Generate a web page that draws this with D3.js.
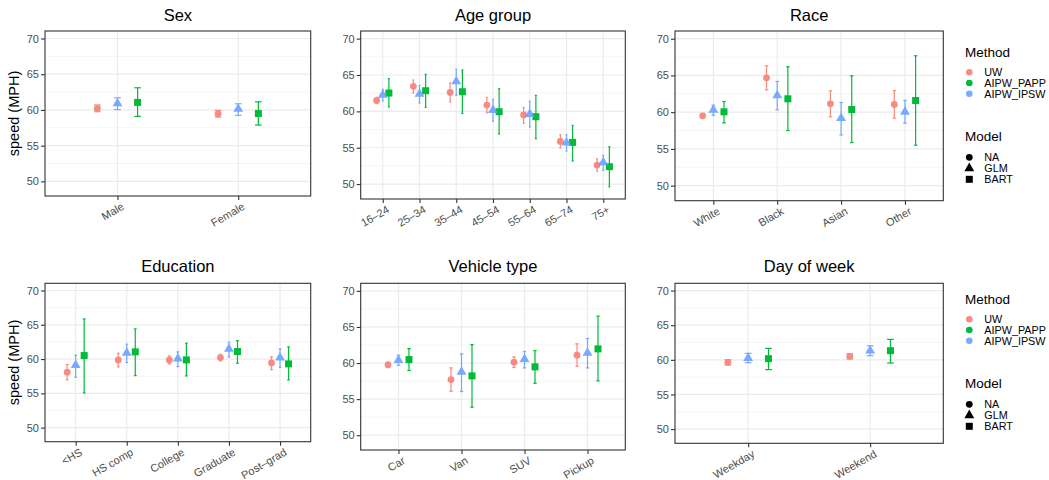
<!DOCTYPE html>
<html>
<head>
<meta charset="utf-8">
<script src="https://cdn.jsdelivr.net/npm/d3@7"></script>
<style>
  html, body { margin: 0; padding: 0; background: #fff; }
  svg { display: block; font-family: "Liberation Sans", Arial, Helvetica, sans-serif; }
</style>
</head>
<body>
<svg id="chart" width="1049" height="480"></svg>
<script>
// Methods, model shapes and colours
const methods = ["UW", "AIPW_PAPP", "AIPW_IPSW"];
const models = ["NA", "GLM", "BART"];
const methodModel = { UW: "NA", AIPW_IPSW: "GLM", AIPW_PAPP: "BART" };
const methodColor = { UW: "#F8766D", AIPW_PAPP: "#00BA38", AIPW_IPSW: "#619CFF" };
const methodAlpha = { UW: 0.85, AIPW_PAPP: 1, AIPW_IPSW: 0.85 };
const yTicks = [50, 55, 60, 65, 70];
const yMinor = [52.5, 57.5, 62.5, 67.5];

// Estimates as [estimate, lower, upper] per category
const sexCats = ["Male", "Female"];
const sexUW   = [[60.2, 59.75, 60.7], [59.45, 59.0, 59.93]];
const sexIPSW = [[60.9, 60.05, 61.7], [60.15, 59.23, 60.86]];
const sexPAPP = [[61.05, 59.1, 63.1], [59.5, 57.88, 61.14]];

const ageCats = ["16\u201324", "25\u201334", "35\u201344", "45\u201354", "55\u201364", "65\u201374", "75+"];
const ageUW   = [[61.5, 61.06, 61.93], [63.44, 62.52, 64.31], [62.61, 61.28, 63.94], [60.87, 59.82, 61.93], [59.5, 58.35, 60.55], [55.87, 55.0, 56.79], [52.61, 51.74, 53.49]];
const ageIPSW = [[62.25, 61.42, 63.03], [62.39, 61.15, 63.58], [64.13, 62.2, 65.78], [60.18, 58.62, 61.65], [59.63, 57.84, 61.38], [55.69, 54.54, 56.79], [52.98, 51.88, 53.94]];
const agePAPP = [[62.52, 60.6, 64.5], [62.84, 60.55, 65.09], [62.7, 59.72, 65.7], [59.95, 56.88, 63.12], [59.27, 56.24, 62.2], [55.73, 53.17, 58.07], [52.39, 49.63, 55.14]];

const raceCats = ["White", "Black", "Asian", "Other"];
const raceUW   = [[59.5, 59.27, 59.73], [64.68, 63.05, 66.32], [61.14, 59.36, 62.9], [61.05, 59.18, 62.95]];
const raceIPSW = [[60.32, 59.59, 60.95], [62.27, 60.32, 64.18], [59.18, 56.9, 61.32], [60.05, 58.5, 61.6]];
const racePAPP = [[60.05, 58.55, 61.45], [61.82, 57.5, 66.18], [60.36, 55.86, 64.95], [61.59, 55.5, 67.68]];

const eduCats = ["<HS", "HS comp", "College", "Graduate", "Post\u2013grad"];
const eduUW   = [[58.08, 56.96, 59.2], [59.88, 58.86, 60.85], [59.88, 59.29, 60.46], [60.22, 59.73, 60.7], [59.44, 58.47, 60.32]];
const eduIPSW = [[59.1, 57.35, 60.56], [60.9, 59.49, 62.17], [60.07, 58.9, 61.05], [61.48, 60.32, 62.46], [60.22, 58.8, 61.48]];
const eduPAPP = [[60.51, 55.06, 65.86], [61.05, 57.59, 64.4], [59.88, 57.54, 62.31], [61.1, 59.39, 62.7], [59.3, 56.96, 61.78]];

const vehCats = ["Car", "Van", "SUV", "Pickup"];
const vehUW   = [[59.75, 59.38, 60.12], [57.71, 56.1, 59.33], [60.12, 59.38, 60.85], [61.09, 59.56, 62.66]];
const vehIPSW = [[60.39, 59.7, 61.09], [58.78, 56.05, 61.27], [60.53, 59.33, 61.6], [61.41, 59.33, 63.4]];
const vehPAPP = [[60.48, 58.96, 62.0], [58.22, 53.88, 62.56], [59.47, 57.2, 61.73], [61.96, 57.53, 66.49]];

const dayCats = ["Weekday", "Weekend"];
const dayUW   = [[59.64, 59.26, 60.02], [60.5, 60.12, 60.89]];
const dayIPSW = [[60.26, 59.59, 60.94], [61.32, 60.6, 62.04]];
const dayPAPP = [[60.17, 58.59, 61.65], [61.32, 59.54, 62.95]];

const panels = [
  { title: "Sex",          cats: sexCats,  UW: sexUW,  AIPW_IPSW: sexIPSW,  AIPW_PAPP: sexPAPP },
  { title: "Age group",    cats: ageCats,  UW: ageUW,  AIPW_IPSW: ageIPSW,  AIPW_PAPP: agePAPP },
  { title: "Race",         cats: raceCats, UW: raceUW, AIPW_IPSW: raceIPSW, AIPW_PAPP: racePAPP },
  { title: "Education",    cats: eduCats,  UW: eduUW,  AIPW_IPSW: eduIPSW,  AIPW_PAPP: eduPAPP },
  { title: "Vehicle type", cats: vehCats,  UW: vehUW,  AIPW_IPSW: vehIPSW,  AIPW_PAPP: vehPAPP },
  { title: "Day of week",  cats: dayCats,  UW: dayUW,  AIPW_IPSW: dayIPSW,  AIPW_PAPP: dayPAPP }
];

// Panel boxes (plot area) in pixels
const layout = [
  { l: 45,    r: 310.7, t: 31,    b: 196,   yLabel: true,  titleY: 20.5 },
  { l: 360.7, r: 625.3, t: 31,    b: 199,   yLabel: false, titleY: 20.5 },
  { l: 675,   r: 943.3, t: 31,    b: 200.7, yLabel: false, titleY: 20.5 },
  { l: 45,    r: 310.7, t: 283.3, b: 441.7, yLabel: true,  titleY: 272 },
  { l: 360.7, r: 625.3, t: 283.3, b: 450,   yLabel: false, titleY: 272 },
  { l: 675,   r: 943.3, t: 283.3, b: 443.3, yLabel: false, titleY: 272 }
];

const svg = d3.select("#chart");
const yDomain = [47.95, 71.05];

const symbolFor = {
  NA: d3.symbol().type(d3.symbolCircle).size(36),
  GLM: d3.symbol().type(d3.symbolTriangle).size(42),
  BART: d3.symbol().type(d3.symbolSquare).size(49)
};

panels.forEach((p, i) => {
  const L = layout[i];
  const g = svg.append("g");
  const x = d3.scalePoint().domain(p.cats).range([L.l, L.r]).padding(0.6);
  const y = d3.scaleLinear().domain(yDomain).range([L.b, L.t]);
  const step = x.step();
  const dodge = m => (models.indexOf(methodModel[m]) - 1) * step * 0.5 / 3;
  const capHalf = step * 0.0275;

  // grid
  g.append("g").selectAll("line").data(yMinor).join("line")
    .attr("x1", L.l).attr("x2", L.r).attr("y1", d => y(d)).attr("y2", d => y(d))
    .attr("stroke", "#F2F2F2").attr("stroke-width", 0.8);
  g.append("g").selectAll("line").data(yTicks).join("line")
    .attr("x1", L.l).attr("x2", L.r).attr("y1", d => y(d)).attr("y2", d => y(d))
    .attr("stroke", "#EBEBEB").attr("stroke-width", 1.2);
  g.append("g").selectAll("line").data(p.cats).join("line")
    .attr("x1", d => x(d)).attr("x2", d => x(d)).attr("y1", L.t).attr("y2", L.b)
    .attr("stroke", "#EBEBEB").attr("stroke-width", 1.2);

  // error bars and points, drawn in method order
  methods.forEach(m => {
    const rows = p[m].map((v, k) => ({ cat: p.cats[k], est: v[0], lo: v[1], hi: v[2] }));
    const mg = g.append("g").attr("opacity", methodAlpha[m]);
    const col = methodColor[m];
    rows.forEach(r => {
      const cx = x(r.cat) + dodge(m);
      mg.append("line").attr("x1", cx).attr("x2", cx).attr("y1", y(r.lo)).attr("y2", y(r.hi))
        .attr("stroke", col).attr("stroke-width", 1.2);
      [r.lo, r.hi].forEach(v => {
        mg.append("line").attr("x1", cx - capHalf).attr("x2", cx + capHalf)
          .attr("y1", y(v)).attr("y2", y(v)).attr("stroke", col).attr("stroke-width", 1.2);
      });
      mg.append("path").attr("d", symbolFor[methodModel[m]]())
        .attr("transform", `translate(${cx},${y(r.est)})`).attr("fill", col);
    });
  });

  // border
  g.append("rect").attr("x", L.l).attr("y", L.t).attr("width", L.r - L.l).attr("height", L.b - L.t)
    .attr("fill", "none").attr("stroke", "#333333").attr("stroke-width", 1.1);

  // y axis
  const ya = g.append("g").attr("transform", `translate(${L.l},0)`)
    .call(d3.axisLeft(y).tickValues(yTicks).tickSize(4).tickPadding(2).tickFormat(d3.format("d")));
  ya.select(".domain").remove();
  ya.selectAll(".tick line").attr("stroke", "#333333").attr("stroke-width", 1.1);
  ya.selectAll(".tick text").attr("fill", "#4D4D4D").attr("font-size", "11px")
    .attr("font-family", "Liberation Sans, Arial, sans-serif");

  // x axis
  const xa = g.append("g").attr("transform", `translate(0,${L.b})`)
    .call(d3.axisBottom(x).tickSize(4).tickPadding(2));
  xa.select(".domain").remove();
  xa.selectAll(".tick line").attr("stroke", "#333333").attr("stroke-width", 1.1);
  xa.selectAll(".tick text").attr("fill", "#4D4D4D").attr("font-size", "11px")
    .attr("font-family", "Liberation Sans, Arial, sans-serif")
    .attr("text-anchor", "end").attr("dy", "0.71em")
    .attr("transform", "translate(3,6) rotate(-30)").attr("y", 0).attr("x", 0);

  // title
  g.append("text").attr("x", (L.l + L.r) / 2).attr("y", L.titleY).attr("text-anchor", "middle")
    .attr("font-size", "16.5px").attr("fill", "#000").text(p.title);

  if (L.yLabel) {
    g.append("text").attr("transform", `translate(18.7,${(L.t + L.b) / 2}) rotate(-90)`)
      .attr("text-anchor", "middle").attr("font-size", "14.5px").attr("fill", "#000")
      .text("speed (MPH)");
  }
});

// legends, one per row
[0, 247].forEach(off => {
  const lg = svg.append("g").attr("transform", `translate(0,${off})`);
  lg.append("text").attr("x", 965).attr("y", 56.7).attr("font-size", "13.5px").text("Method");
  methods.forEach((m, k) => {
    const yy = 72.3 + k * 10.7;
    lg.append("circle").attr("cx", 969.3).attr("cy", yy).attr("r", 3.3)
      .attr("fill", methodColor[m]).attr("opacity", methodAlpha[m]);
    lg.append("text").attr("x", 984.3).attr("y", yy).attr("dy", "0.36em")
      .attr("font-size", "10.8px").text(m);
  });
  lg.append("text").attr("x", 965).attr("y", 140.7).attr("font-size", "13.5px").text("Model");
  models.forEach((m, k) => {
    const yy = 157.3 + k * 11;
    lg.append("path").attr("d", symbolFor[m]()).attr("transform", `translate(969.3,${yy})`)
      .attr("fill", "#000");
    lg.append("text").attr("x", 984.3).attr("y", yy).attr("dy", "0.36em")
      .attr("font-size", "10.8px").text(m);
  });
});
</script>
</body>
</html>
